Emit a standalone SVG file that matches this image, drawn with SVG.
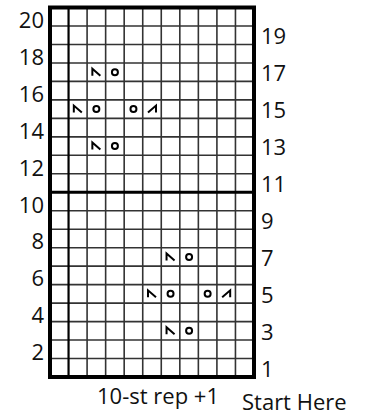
<svg xmlns="http://www.w3.org/2000/svg" xmlns:xlink="http://www.w3.org/1999/xlink" width="366" height="416" viewBox="0 0 366 416">
<style>
.thin{stroke:#333;stroke-width:1.6;fill:none}
.sym{stroke:#000;stroke-width:2;fill:none}
.lbl{font-family:"Open Sans","Noto Sans",sans-serif;font-size:22px;fill:#111}
.l{text-anchor:end}
</style>
<defs>
<path id="ld" class="sym" d="M-4,3.5 V-3.5 L4,3.5"/>
<path id="rd" class="sym" d="M-4,3.5 L4,-3.5 V3.5"/>
<circle id="yo" class="sym" r="3"/>
</defs>
<rect width="366" height="416" fill="#fff"/>
<g id="grid">
<path class="thin" d="M87.09,7.5V377M105.64,7.5V377M124.18,7.5V377M142.73,7.5V377M161.27,7.5V377M179.82,7.5V377M198.36,7.5V377M216.91,7.5V377M235.45,7.5V377"/>
<path class="thin" d="M50,25.98H254M50,44.45H254M50,62.93H254M50,81.4H254M50,99.88H254M50,118.35H254M50,136.83H254M50,155.3H254M50,173.78H254M50,210.73H254M50,229.2H254M50,247.68H254M50,266.15H254M50,284.63H254M50,303.1H254M50,321.58H254M50,340.05H254M50,358.53H254"/>
<line x1="68.55" y1="7.5" x2="68.55" y2="377" stroke="#000" stroke-width="2.2"/>
<line x1="50" y1="192.25" x2="254" y2="192.25" stroke="#000" stroke-width="3"/>
<rect x="50" y="7.5" width="204" height="369.5" fill="none" stroke="#000" stroke-width="4"/>
</g>
<g id="symbols">
<use xlink:href="#ld" x="96.36" y="72.16"/><use xlink:href="#yo" x="114.91" y="72.16"/>
<use xlink:href="#ld" x="77.82" y="109.11"/><use xlink:href="#yo" x="96.36" y="109.11"/><use xlink:href="#yo" x="133.45" y="109.11"/><use xlink:href="#rd" x="152" y="109.11"/>
<use xlink:href="#ld" x="96.36" y="146.06"/><use xlink:href="#yo" x="114.91" y="146.06"/>
<use xlink:href="#ld" x="170.55" y="256.91"/><use xlink:href="#yo" x="189.09" y="256.91"/>
<use xlink:href="#ld" x="152" y="293.86"/><use xlink:href="#yo" x="170.55" y="293.86"/><use xlink:href="#yo" x="207.64" y="293.86"/><use xlink:href="#rd" x="226.18" y="293.86"/>
<use xlink:href="#ld" x="170.55" y="330.81"/><use xlink:href="#yo" x="189.09" y="330.81"/>
</g>
<g id="labels-left">
<text class="lbl l" x="44" y="27.7">20</text>
<text class="lbl l" x="44" y="64.7">18</text>
<text class="lbl l" x="44" y="101.6">16</text>
<text class="lbl l" x="44" y="138.6">14</text>
<text class="lbl l" x="44" y="175.5">12</text>
<text class="lbl l" x="44" y="212.5">10</text>
<text class="lbl l" x="44" y="249.4">8</text>
<text class="lbl l" x="44" y="286.4">6</text>
<text class="lbl l" x="44" y="323.3">4</text>
<text class="lbl l" x="44" y="360.3">2</text>
</g>
<g id="labels-right">
<text class="lbl" x="261" y="44.2">19</text>
<text class="lbl" x="261" y="81.2">17</text>
<text class="lbl" x="261" y="118.1">15</text>
<text class="lbl" x="261" y="155.1">13</text>
<text class="lbl" x="261" y="192">11</text>
<text class="lbl" x="261" y="229">9</text>
<text class="lbl" x="261" y="265.9">7</text>
<text class="lbl" x="261" y="302.9">5</text>
<text class="lbl" x="261" y="339.8">3</text>
<text class="lbl" x="261" y="376.8">1</text>
</g>
<g id="captions">
<text class="lbl" x="158" y="404" text-anchor="middle">10-st rep +1</text>
<text class="lbl" x="242" y="410">Start Here</text>
</g>
</svg>
